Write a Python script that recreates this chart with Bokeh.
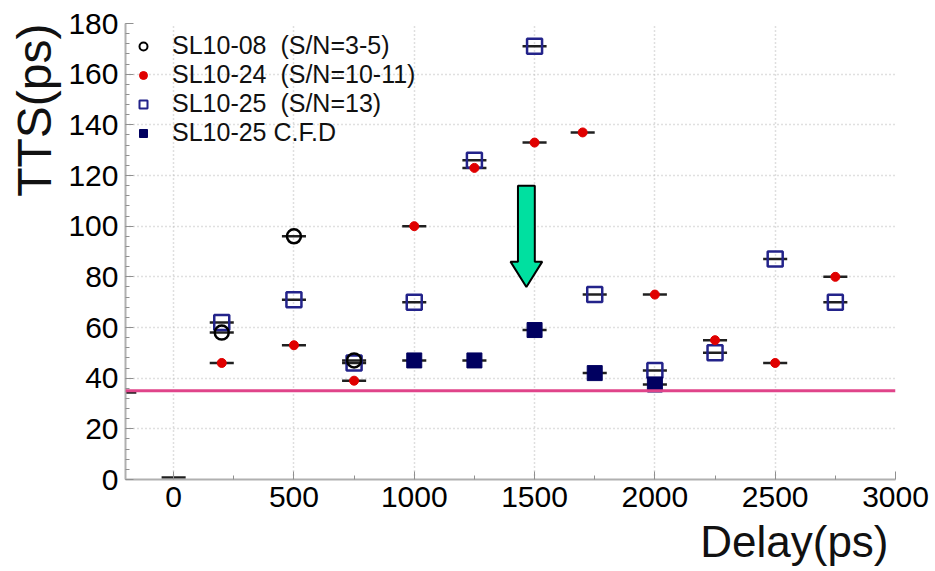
from bokeh.plotting import figure
from bokeh.models import (Range1d, FixedTicker, Legend, LegendItem, Title,
                          ColumnDataSource, Span)
from bokeh.embed import file_html
from bokeh.resources import INLINE

# ---------------- data ----------------
x_ticks = [0, 500, 1000, 1500, 2000, 2500, 3000]
y_ticks = [0, 20, 40, 60, 80, 100, 120, 140, 160, 180]

sl08_delay = [200, 500, 750]
sl08_tts = [58, 96, 47]
sl08_err = [50, 50, 50]

sl24_delay = [200, 500, 750, 1000, 1250, 1500, 1700, 2000, 2250, 2500, 2750]
sl24_tts = [46, 53, 39, 100, 123, 133, 137, 73, 55, 46, 80]
sl24_err = [50, 50, 50, 50, 50, 50, 50, 50, 50, 50, 50]

sl25_delay = [200, 500, 750, 1000, 1250, 1500, 1750, 2000, 2250, 2500, 2750]
sl25_tts = [62, 71, 46, 70, 126, 171, 73, 43, 50, 87, 70]
sl25_err = [50, 50, 50, 50, 50, 50, 50, 50, 50, 50, 50]

cfd_delay = [1000, 1250, 1500, 1750, 2000]
cfd_tts = [47, 47, 59, 42, 37.5]
cfd_err = [50, 50, 50, 50, 50]

extra_delay = [-205, 0]
extra_tts = [34.3, 0.8]
extra_err = [50, 50]

ref_tts = 35

labels = ["SL10-08  (S/N=3-5)", "SL10-24  (S/N=10-11)",
          "SL10-25  (S/N=13)", "SL10-25 C.F.D"]

# annotation arrow (data units)
arrow_x = 1466
arrow_top = 116
arrow_neck = 86
arrow_tip = 76
arrow_shaft_half = 35
arrow_head_half = 66

FONT = "Liberation Sans"
NAVY_OPEN = "#23238a"
NAVY = "#000060"
RED = "#e00000"

p = figure(width=935, height=571, output_backend="svg", toolbar_location=None,
           x_range=Range1d(-200, 3000), y_range=Range1d(0, 180),
           min_border_left=122, min_border_right=40, min_border_top=23,
           min_border_bottom=92)
p.outline_line_color = None
p.background_fill_color = "white"

for ax in (p.xaxis[0], p.yaxis[0]):
    ax.axis_line_color = "#b0b0b0"
    ax.axis_line_width = 2
    ax.major_tick_in = 8
    ax.major_tick_out = 0
    ax.minor_tick_in = 4
    ax.minor_tick_out = 0
    ax.major_tick_line_color = "#909090"
    ax.minor_tick_line_color = "#909090"
    ax.major_label_text_font = FONT
    ax.major_label_text_font_size = "30px"
    ax.major_label_text_color = "black"
    ax.major_label_standoff = 7

p.xaxis.ticker = FixedTicker(ticks=x_ticks,
                             minor_ticks=[t + 250 for t in x_ticks[:-1]] + [-250])
p.yaxis.ticker = FixedTicker(ticks=y_ticks,
                             minor_ticks=[v for v in range(0, 181, 4)])

for g in (p.xgrid[0], p.ygrid[0]):
    g.grid_line_color = "#c0c0c0"
    g.grid_line_dash = "1 3"
    g.grid_line_width = 1.5

p.add_layout(Span(location=ref_tts, dimension="width", line_color="#e0448a",
                  line_width=3))

def bars(xs, ys, errs):
    src = ColumnDataSource(dict(x0=[a - e for a, e in zip(xs, errs)],
                                x1=[a + e for a, e in zip(xs, errs)], y=ys))
    p.segment(x0="x0", x1="x1", y0="y", y1="y", source=src,
              line_color="#202020", line_width=2.5)

bars(sl25_delay, sl25_tts, sl25_err)
bars(sl08_delay, sl08_tts, sl08_err)
bars(sl24_delay, sl24_tts, sl24_err)
bars(cfd_delay, cfd_tts, cfd_err)
bars(extra_delay, extra_tts, extra_err)

p.scatter(sl25_delay, sl25_tts, marker="square", size=15, fill_color=None,
          line_color=NAVY_OPEN, line_width=2.5)
p.scatter(sl08_delay, sl08_tts, marker="circle", size=14, fill_color=None,
          line_color="black", line_width=2.5)
p.scatter(sl24_delay, sl24_tts, marker="circle", size=9, fill_color=RED,
          line_color=RED)
p.scatter(cfd_delay, cfd_tts, marker="square", size=15, fill_color=NAVY,
          line_color=NAVY)

# arrow
ax_ = [arrow_x - arrow_shaft_half, arrow_x + arrow_shaft_half,
       arrow_x + arrow_shaft_half, arrow_x + arrow_head_half, arrow_x,
       arrow_x - arrow_head_half, arrow_x - arrow_shaft_half]
ay_ = [arrow_top, arrow_top, arrow_neck, arrow_neck, arrow_tip, arrow_neck,
       arrow_neck]
p.patch(ax_, ay_, fill_color="#00e0a0", line_color="black", line_width=2)

# legend proxies (not drawn in the plot area)
nan = float("nan")
def proxy(**kw):
    return p.scatter("x", "y", source=ColumnDataSource(dict(x=[nan], y=[nan])),
                     **kw)

l1 = proxy(marker="circle", size=11, fill_color=None, line_color="black",
           line_width=2)
l2 = proxy(marker="circle", size=12, fill_color=RED, line_color=RED)
l3 = proxy(marker="square", size=12, fill_color=None, line_color=NAVY_OPEN,
           line_width=2)
l4 = proxy(marker="square", size=11, fill_color=NAVY, line_color=NAVY)
legend = Legend(items=[LegendItem(label=labels[0], renderers=[l1]),
                       LegendItem(label=labels[1], renderers=[l2]),
                       LegendItem(label=labels[2], renderers=[l3]),
                       LegendItem(label=labels[3], renderers=[l4])],
                location="top_left", margin=8, padding=2, spacing=-9,
                glyph_width=20, glyph_height=20, label_height=20,
                label_standoff=19, label_text_font=FONT,
                label_text_font_size="25px", label_text_color="#111111",
                background_fill_alpha=0, border_line_color=None)
p.add_layout(legend)

p.add_layout(Title(text="TTS(ps)", align="right", text_font=FONT,
                   text_font_size="48px", text_font_style="normal",
                   text_color="#111111"), "left")
p.add_layout(Title(text="Delay(ps)", align="right", text_font=FONT,
                   text_font_size="44px", text_font_style="normal",
                   text_color="#111111", offset=7), "below")

open("out.html", "w").write(file_html(p, INLINE))
